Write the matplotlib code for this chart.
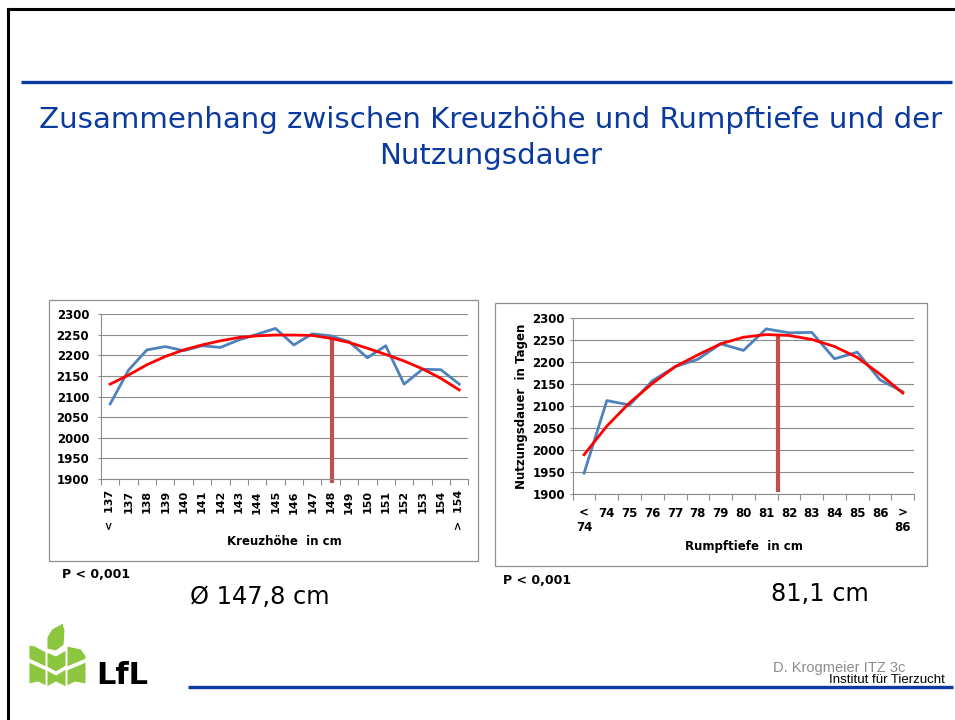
import numpy as np
import matplotlib
matplotlib.use("Agg")
import matplotlib.pyplot as plt
from matplotlib.patches import Polygon, Rectangle

W, H = 955, 720

# Kreuzhöhe -> Nutzungsdauer (Tage)
kreuz_labels = ["<  137", "137", "138", "139", "140", "141", "142", "143", "144", "145",
                "146", "147", "148", "149", "150", "151", "152", "153", "154", ">  154"]
kreuz_days = [2082, 2164, 2213, 2221, 2211, 2223, 2219, 2237, 2251, 2265,
              2225, 2252, 2247, 2233, 2194, 2223, 2130, 2166, 2165, 2130]
kreuz_trend = [2130, 2152, 2177, 2197, 2213, 2225, 2235, 2243, 2247, 2249,
               2249, 2248, 2241, 2231, 2217, 2202, 2186, 2167, 2144, 2116]
kreuz_mean_pos = 12.1
kreuz_mean_top = 2240

# Rumpftiefe -> Nutzungsdauer (Tage)
rumpf_labels = ["<\n74", "74", "75", "76", "77", "78", "79", "80", "81", "82",
                "83", "84", "85", "86", ">\n86"]
rumpf_days = [1948, 2113, 2103, 2158, 2190, 2207, 2242, 2227, 2276, 2267,
              2268, 2208, 2223, 2160, 2133]
rumpf_trend = [1990, 2055, 2108, 2152, 2190, 2217, 2242, 2257, 2263, 2261,
               2252, 2236, 2211, 2173, 2130]
rumpf_mean_pos = 8.52
rumpf_mean_top = 2262

y_ticks = list(range(1900, 2301, 50))

BLUE_LINE = "#4F81BD"
TREND_RED = "#FF0000"
BAR_RED = "#C0504D"
SLIDE_BLUE = "#0B3A9E"
GRID = "#8c8c8c"


def px_axes(fig, x0, y0, x1, y1):
    return fig.add_axes([x0 / W, 1 - y1 / H, (x1 - x0) / W, (y1 - y0) / H])


def draw_chart(ax, labels, days, trend, mean_pos, mean_top, bar_bottom,
               rotate, ypad, xpad):
    n = len(labels)
    x = np.arange(n)
    ax.set_xlim(-0.5, n - 0.5)
    ax.set_ylim(1900, 2300)
    ax.set_yticks(y_ticks)
    ax.grid(axis="y", color=GRID, lw=0.8)
    ax.set_axisbelow(True)
    for s in ("top", "right"):
        ax.spines[s].set_visible(False)
    for s in ("left", "bottom"):
        ax.spines[s].set_color(GRID)
        ax.spines[s].set_linewidth(0.8)

    # ticks on category boundaries, labels on category centres
    ax.set_xticks(np.arange(n + 1) - 0.5)
    ax.set_xticklabels([])
    ax.set_xticks(x, minor=True)
    if rotate:
        ax.set_xticklabels(labels, minor=True, rotation=90, ha="center", va="top",
                           fontweight="bold", fontsize=8)
    else:
        ax.set_xticklabels(labels, minor=True, ha="center", va="top",
                           multialignment="center", fontweight="bold", fontsize=8.5,
                           linespacing=1.15)
    ax.tick_params(axis="x", which="major", length=4, color=GRID, width=0.8)
    ax.tick_params(axis="x", which="minor", length=0, pad=xpad)
    ax.tick_params(axis="y", length=2.5, color=GRID, width=0.8, pad=ypad)
    for t in ax.get_yticklabels():
        t.set_fontweight("bold")
        t.set_fontsize(8.5)

    ax.plot(x, days, color=BLUE_LINE, lw=2.0, zorder=2)
    ax.vlines(mean_pos, bar_bottom, mean_top, color=BAR_RED, lw=3, zorder=2.5,
              clip_on=False)
    ax.plot(x, trend, color=TREND_RED, lw=2, zorder=3)


fig = plt.figure(figsize=(W / 100, H / 100), dpi=100)

# slide background layer in pixel coordinates
bg = fig.add_axes([0, 0, 1, 1])
bg.set_xlim(0, W)
bg.set_ylim(H, 0)
bg.axis("off")

bg.plot([8, 8], [9, H], color="black", lw=2.2)
bg.plot([8, W], [9, 9], color="black", lw=2.2)
bg.plot([21, 952], [82, 82], color=SLIDE_BLUE, lw=2.4, solid_capstyle="butt")
bg.plot([188, 953], [687, 687], color=SLIDE_BLUE, lw=2.4, solid_capstyle="butt")

bg.add_patch(Rectangle((49, 300), 429, 261, fill=False, ec="#8f8f8f", lw=0.9))
bg.add_patch(Rectangle((495, 303), 432, 263, fill=False, ec="#8f8f8f", lw=0.9))

bg.text(491, 120, "Zusammenhang zwischen Kreuzhöhe und Rumpftiefe und der",
        color=SLIDE_BLUE, fontsize=21.1, ha="center", va="center")
bg.text(491, 156, "Nutzungsdauer", color=SLIDE_BLUE, fontsize=21.1,
        ha="center", va="center")

# LfL logo
green = "#8CC63F"
leaves = [
    [(47, 649), (47, 637), (52, 629), (63, 623), (65, 631), (64, 645), (56, 651)],
    [(29, 645), (35, 646), (46, 652), (46, 667), (29, 659)],
    [(29, 662), (46, 670), (46, 686), (38, 682), (29, 684)],
    [(86, 656), (81, 649), (67, 646), (67, 667), (86, 659)],
    [(86, 662), (67, 670), (67, 686), (75, 682), (86, 684)],
    [(47, 652), (56, 656), (66, 650), (66, 666), (56, 672), (47, 667)],
    [(47, 670), (56, 675), (66, 669), (66, 687), (56, 682), (47, 687)],
]
for pts in leaves:
    bg.add_patch(Polygon(pts, closed=True, fc=green, ec="white", lw=0.7))
bg.text(96, 676, "LfL", fontsize=22, fontweight="bold", ha="left", va="center",
        color="black")

bg.text(773, 668, "D. Krogmeier ITZ 3c", fontsize=10.5, color="#8c8c8c",
        family="Liberation Sans", ha="left", va="center")
bg.text(945, 680, "Institut für Tierzucht", fontsize=9.5, color="black",
        family="Liberation Sans", ha="right", va="center")

bg.text(62, 575, "P < 0,001", fontsize=9, fontweight="bold", ha="left", va="center")
bg.text(503, 580, "P < 0,001", fontsize=9, fontweight="bold", ha="left", va="center")
bg.text(190, 597, "Ø 147,8 cm", fontsize=17.3, ha="left", va="center")
bg.text(771, 594, "81,1 cm", fontsize=17.3, ha="left", va="center")

# Kreuzhöhe chart
ax1 = px_axes(fig, 101, 314, 468.4, 479)
draw_chart(ax1, kreuz_labels, kreuz_days, kreuz_trend, kreuz_mean_pos,
           kreuz_mean_top, 1891, rotate=True, ypad=6, xpad=8)
ax1.set_xlabel("Kreuzhöhe  in cm", fontweight="bold", fontsize=8.5, labelpad=3)

# Rumpftiefe chart
ax2 = px_axes(fig, 572.7, 318.3, 914.2, 494.3)
draw_chart(ax2, rumpf_labels, rumpf_days, rumpf_trend, rumpf_mean_pos,
           rumpf_mean_top, 1905, rotate=False, ypad=3, xpad=9)
ax2.set_xlabel("Rumpftiefe  in cm", fontweight="bold", fontsize=8.5, labelpad=4)
ax2.set_ylabel("Nutzungsdauer  in Tagen", fontweight="bold", fontsize=8.5, labelpad=3)

fig.savefig("out.png", dpi=100)
